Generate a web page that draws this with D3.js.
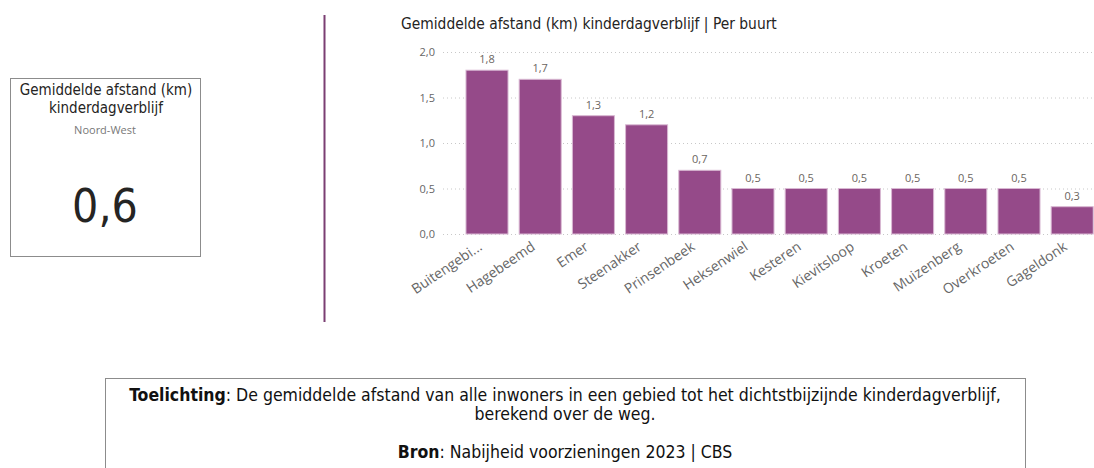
<!DOCTYPE html>
<html><head><meta charset="utf-8">
<script src="https://cdn.jsdelivr.net/npm/d3@7"></script>
<style>body{margin:0;background:#fff;} svg{display:block;}</style>
</head><body>
<svg id="c" width="1094" height="468"></svg>
<script>
const categories = ["Buitengebi...","Hagebeemd","Emer","Steenakker","Prinsenbeek","Heksenwiel","Kesteren","Kievitsloop","Kroeten","Muizenberg","Overkroeten","Gageldonk"];
const values = [1.8,1.7,1.3,1.2,0.7,0.5,0.5,0.5,0.5,0.5,0.5,0.3];
const yTicks = [0,0.5,1.0,1.5,2.0];
const chartTitle = "Gemiddelde afstand (km) kinderdagverblijf | Per buurt";
const cardTitle = ["Gemiddelde afstand (km)","kinderdagverblijf"];
const cardSub = "Noord-West";
const cardValue = 0.6;

const fmt = v => d3.format(".1f")(v).replace(".", ",");
const svg = d3.select("#c");
const DIN = "'DejaVu Sans Condensed','Liberation Sans Narrow',sans-serif";
const SEG = "'Open Sans','Noto Sans',sans-serif";

// card
svg.append("rect").attr("x",10.5).attr("y",78.5).attr("width",190).attr("height",178)
  .attr("fill","#fff").attr("stroke","#8c8c8c").attr("stroke-width",1);
svg.selectAll(".ct").data(cardTitle).join("text")
  .attr("x",106).attr("y",(d,i)=>95+i*18).attr("text-anchor","middle")
  .attr("font-family",DIN).attr("font-size",15).attr("fill","#252423").text(d=>d);
svg.append("text").attr("x",105).attr("y",134).attr("text-anchor","middle")
  .attr("font-family",SEG).attr("font-size",11).attr("fill","#777").text(cardSub);
svg.append("text").attr("x",105).attr("y",222).attr("text-anchor","middle")
  .attr("font-family",DIN).attr("font-size",46).attr("fill","#252423").text(fmt(cardValue));

// divider
svg.append("line").attr("x1",324.5).attr("x2",324.5).attr("y1",15).attr("y2",322)
  .attr("stroke","#7b3f73").attr("stroke-width",2);

// chart
svg.append("text").attr("x",401).attr("y",29).attr("font-family",DIN).attr("font-size",15.4)
  .attr("fill","#252423").text(chartTitle);

const y = d3.scaleLinear().domain([0,2]).range([234,52]);
const x = d3.scaleBand().domain(categories).range([460.4,1098.8]).paddingInner(0.21).paddingOuter(0.105);

const yAxis = svg.append("g").attr("transform","translate(443,0)")
  .call(d3.axisLeft(y).tickValues(yTicks).tickFormat(fmt).tickSize(0).tickPadding(8));
yAxis.select(".domain").remove();
yAxis.selectAll("text").attr("font-family",SEG).attr("font-size",11).attr("fill","#666");

svg.append("g").selectAll("line").data(yTicks).join("line")
  .attr("x1",443).attr("x2",1094).attr("y1",d=>y(d)+0.5).attr("y2",d=>y(d)+0.5)
  .attr("stroke","#c8c8c8").attr("stroke-dasharray","1,3");

svg.append("g").selectAll("rect").data(values).join("rect")
  .attr("x",(d,i)=>x(categories[i])).attr("width",x.bandwidth())
  .attr("y",d=>y(d)).attr("height",d=>y(0)-y(d))
  .attr("fill","#954a89").attr("stroke","#d9b8d3").attr("stroke-width",1);

svg.append("g").selectAll("text").data(values).join("text")
  .attr("x",(d,i)=>x(categories[i])+x.bandwidth()/2).attr("y",d=>y(d)-7)
  .attr("text-anchor","middle").attr("font-family",SEG).attr("font-size",11).attr("fill","#6b6560")
  .text(fmt);

const xAxis = svg.append("g").attr("transform","translate(0,234)")
  .call(d3.axisBottom(x).tickSize(0).tickPadding(0));
xAxis.select(".domain").remove();
xAxis.selectAll("text").attr("font-family",SEG).attr("font-size",14).attr("fill","#666")
  .attr("text-anchor","end").attr("dy",0)
  .attr("transform","translate(-4,15) rotate(-34)");

// footer
svg.append("rect").attr("x",105.5).attr("y",378.5).attr("width",920).attr("height",100)
  .attr("fill","#fff").attr("stroke","#8c8c8c");
const fs = 17.5;
const f1 = svg.append("text").attr("x",565).attr("y",401).attr("text-anchor","middle")
  .attr("font-family",DIN).attr("font-size",fs).attr("fill","#111");
f1.append("tspan").attr("font-weight","bold").text("Toelichting");
f1.append("tspan").text(": De gemiddelde afstand van alle inwoners in een gebied tot het dichtstbijzijnde kinderdagverblijf,");
svg.append("text").attr("x",565).attr("y",420).attr("text-anchor","middle")
  .attr("font-family",DIN).attr("font-size",fs).attr("fill","#111").text("berekend over de weg.");
const f3 = svg.append("text").attr("x",565).attr("y",458).attr("text-anchor","middle")
  .attr("font-family",DIN).attr("font-size",fs).attr("fill","#111");
f3.append("tspan").attr("font-weight","bold").text("Bron");
f3.append("tspan").text(": Nabijheid voorzieningen 2023 | CBS");
</script>
</body></html>
